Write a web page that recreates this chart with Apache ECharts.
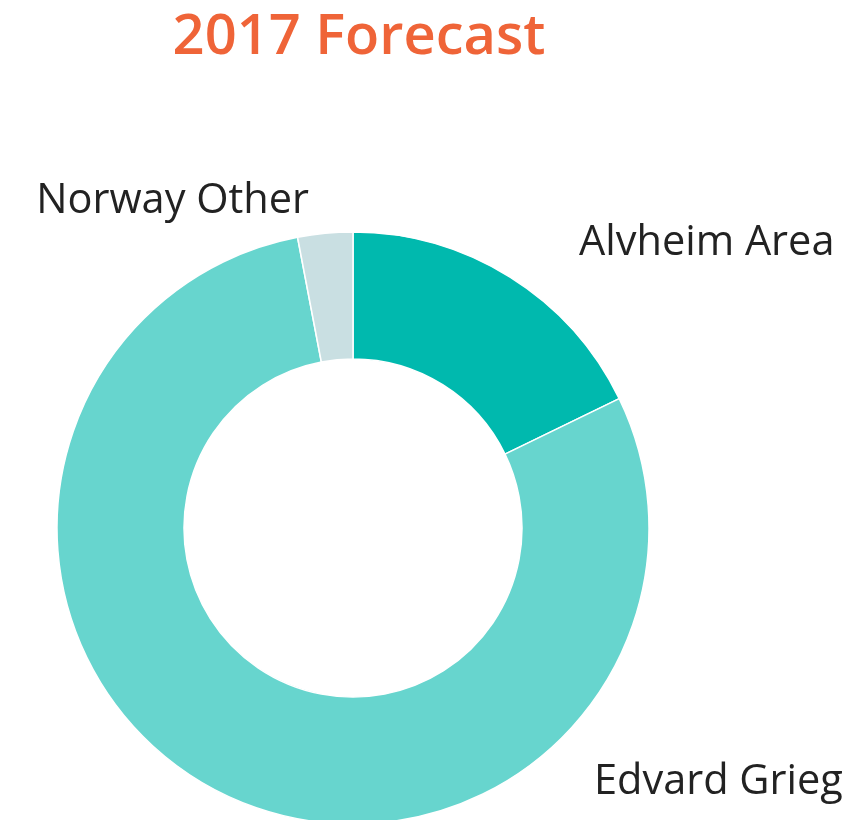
<!DOCTYPE html>
<html>
<head>
<meta charset="utf-8">
<script src="https://cdn.jsdelivr.net/npm/echarts@6/dist/echarts.min.js"></script>
<style>
  html, body { margin: 0; padding: 0; background: #fff; }
  #main { width: 867px; height: 820px; }
</style>
</head>
<body>
<div id="main"></div>
<script>
const names = ["Alvheim Area", "Edvard Grieg", "Norway Other"];
const values = [17.8, 79.2, 3.0];
const colors = ["#00B9AE", "#67D5CE", "#C9DFE2"];

// where each label sits (left/right anchored text)
const labelSpots = [
  { x: 579, y: 243, align: "left" },
  { x: 594, y: 782, align: "left" },
  { x: 309, y: 201, align: "right" }
];

var chart = echarts.init(document.getElementById("main"));
chart.setOption({
  animation: false,
  title: {
    text: "2017 Forecast",
    left: 354,
    top: 5,
    textAlign: "center",
    textStyle: {
      color: "#EF6438",
      fontSize: 56,
      fontWeight: 600,
      fontFamily: "Open Sans"
    }
  },
  series: [
    {
      type: "pie",
      center: [353, 528],
      radius: [169, 296],
      startAngle: 90,
      clockwise: true,
      itemStyle: { borderColor: "#fff", borderWidth: 1.5 },
      label: {
        show: true,
        position: "outside",
        color: "#222",
        fontSize: 41.5,
        fontFamily: "Open Sans",
        overflow: "none"
      },
      labelLine: { show: false },
      labelLayout: function (p) {
        const s = labelSpots[p.dataIndex];
        return { x: s.x, y: s.y, align: s.align, verticalAlign: "middle" };
      },
      data: names.map((n, i) => ({
        name: n,
        value: values[i],
        itemStyle: { color: colors[i] }
      }))
    }
  ]
});
</script>
</body>
</html>
